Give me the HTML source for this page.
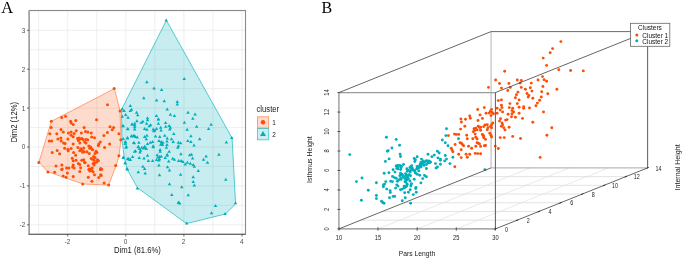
<!DOCTYPE html>
<html><head><meta charset="utf-8"><style>
html,body{margin:0;padding:0;background:#fff;width:685px;height:262px;overflow:hidden}
svg{display:block;font-family:"Liberation Sans", sans-serif;will-change:transform}
</style></head><body>
<svg width="685" height="262" viewBox="0 0 685 262">
<rect x="29.2" y="10.5" width="216.3" height="223.8" fill="#fff"/>
<line x1="38.65" y1="10.5" x2="38.65" y2="234.3" stroke="#ebebeb" stroke-width="0.8"/>
<line x1="67.70" y1="10.5" x2="67.70" y2="234.3" stroke="#ebebeb" stroke-width="0.8"/>
<line x1="96.75" y1="10.5" x2="96.75" y2="234.3" stroke="#ebebeb" stroke-width="0.8"/>
<line x1="125.80" y1="10.5" x2="125.80" y2="234.3" stroke="#ebebeb" stroke-width="0.8"/>
<line x1="154.85" y1="10.5" x2="154.85" y2="234.3" stroke="#ebebeb" stroke-width="0.8"/>
<line x1="183.90" y1="10.5" x2="183.90" y2="234.3" stroke="#ebebeb" stroke-width="0.8"/>
<line x1="212.95" y1="10.5" x2="212.95" y2="234.3" stroke="#ebebeb" stroke-width="0.8"/>
<line x1="242.00" y1="10.5" x2="242.00" y2="234.3" stroke="#ebebeb" stroke-width="0.8"/>
<line x1="29.2" y1="224.80" x2="245.5" y2="224.80" stroke="#ebebeb" stroke-width="0.8"/>
<line x1="29.2" y1="205.35" x2="245.5" y2="205.35" stroke="#ebebeb" stroke-width="0.8"/>
<line x1="29.2" y1="185.90" x2="245.5" y2="185.90" stroke="#ebebeb" stroke-width="0.8"/>
<line x1="29.2" y1="166.45" x2="245.5" y2="166.45" stroke="#ebebeb" stroke-width="0.8"/>
<line x1="29.2" y1="147.00" x2="245.5" y2="147.00" stroke="#ebebeb" stroke-width="0.8"/>
<line x1="29.2" y1="127.55" x2="245.5" y2="127.55" stroke="#ebebeb" stroke-width="0.8"/>
<line x1="29.2" y1="108.10" x2="245.5" y2="108.10" stroke="#ebebeb" stroke-width="0.8"/>
<line x1="29.2" y1="88.65" x2="245.5" y2="88.65" stroke="#ebebeb" stroke-width="0.8"/>
<line x1="29.2" y1="69.20" x2="245.5" y2="69.20" stroke="#ebebeb" stroke-width="0.8"/>
<line x1="29.2" y1="49.75" x2="245.5" y2="49.75" stroke="#ebebeb" stroke-width="0.8"/>
<line x1="29.2" y1="30.30" x2="245.5" y2="30.30" stroke="#ebebeb" stroke-width="0.8"/>
<line x1="29.2" y1="10.85" x2="245.5" y2="10.85" stroke="#ebebeb" stroke-width="0.8"/>
<polygon points="114.4,88.6 120,110.6 121,139.7 119,155.8 116,166 108.6,185.1 83.1,184 48,171.8 38.9,162.3 51.4,121.3" fill="#FC4E07" fill-opacity="0.2" stroke="#FC4E07" stroke-opacity="0.75" stroke-width="0.65"/>
<polygon points="166.4,20.3 232.1,138.1 235.6,204 225.3,214 186.5,223.6 137.5,187.8 127.2,169.5 124.2,157.3 122,140 121.5,109.6" fill="#00AFBB" fill-opacity="0.22" stroke="#00AFBB" stroke-opacity="0.9" stroke-width="0.7"/>
<circle cx="114.1" cy="88.4" r="1.5" fill="#FC4E07"/>
<circle cx="107.5" cy="104.8" r="1.5" fill="#FC4E07"/>
<circle cx="120" cy="111" r="1.5" fill="#FC4E07"/>
<circle cx="51.3" cy="121.3" r="1.5" fill="#FC4E07"/>
<circle cx="61.7" cy="117.5" r="1.5" fill="#FC4E07"/>
<circle cx="65.5" cy="116.3" r="1.5" fill="#FC4E07"/>
<circle cx="70.6" cy="121.2" r="1.5" fill="#FC4E07"/>
<circle cx="75.8" cy="120.4" r="1.5" fill="#FC4E07"/>
<circle cx="71.2" cy="122.9" r="1.5" fill="#FC4E07"/>
<circle cx="73.2" cy="124.4" r="1.5" fill="#FC4E07"/>
<circle cx="96.5" cy="119.8" r="1.5" fill="#FC4E07"/>
<circle cx="51.2" cy="127.6" r="1.5" fill="#FC4E07"/>
<circle cx="61" cy="129.5" r="1.5" fill="#FC4E07"/>
<circle cx="63.3" cy="131.9" r="1.5" fill="#FC4E07"/>
<circle cx="49.8" cy="133.8" r="1.5" fill="#FC4E07"/>
<circle cx="56.8" cy="133.8" r="1.5" fill="#FC4E07"/>
<circle cx="68.4" cy="132.9" r="1.5" fill="#FC4E07"/>
<circle cx="71.1" cy="131.9" r="1.5" fill="#FC4E07"/>
<circle cx="76.2" cy="130.7" r="1.5" fill="#FC4E07"/>
<circle cx="74.1" cy="133.4" r="1.5" fill="#FC4E07"/>
<circle cx="81.3" cy="132.9" r="1.5" fill="#FC4E07"/>
<circle cx="84.1" cy="127.6" r="1.5" fill="#FC4E07"/>
<circle cx="71.1" cy="135.3" r="1.5" fill="#FC4E07"/>
<circle cx="73.2" cy="136.7" r="1.5" fill="#FC4E07"/>
<circle cx="60.8" cy="137.9" r="1.5" fill="#FC4E07"/>
<circle cx="57.9" cy="139.1" r="1.5" fill="#FC4E07"/>
<circle cx="67.9" cy="139.1" r="1.5" fill="#FC4E07"/>
<circle cx="49.3" cy="141" r="1.5" fill="#FC4E07"/>
<circle cx="51.7" cy="141" r="1.5" fill="#FC4E07"/>
<circle cx="61.2" cy="141" r="1.5" fill="#FC4E07"/>
<circle cx="63.6" cy="142.9" r="1.5" fill="#FC4E07"/>
<circle cx="65.1" cy="143.4" r="1.5" fill="#FC4E07"/>
<circle cx="77.5" cy="138.6" r="1.5" fill="#FC4E07"/>
<circle cx="78.9" cy="137.9" r="1.5" fill="#FC4E07"/>
<circle cx="80.3" cy="139.1" r="1.5" fill="#FC4E07"/>
<circle cx="81.8" cy="138.6" r="1.5" fill="#FC4E07"/>
<circle cx="78.4" cy="140.5" r="1.5" fill="#FC4E07"/>
<circle cx="83.2" cy="139.6" r="1.5" fill="#FC4E07"/>
<circle cx="79.8" cy="142.9" r="1.5" fill="#FC4E07"/>
<circle cx="73.2" cy="144" r="1.5" fill="#FC4E07"/>
<circle cx="84.6" cy="142" r="1.5" fill="#FC4E07"/>
<circle cx="110" cy="126.7" r="1.5" fill="#FC4E07"/>
<circle cx="113.6" cy="127.6" r="1.5" fill="#FC4E07"/>
<circle cx="112.2" cy="129.7" r="1.5" fill="#FC4E07"/>
<circle cx="107.4" cy="132.4" r="1.5" fill="#FC4E07"/>
<circle cx="103.9" cy="135.5" r="1.5" fill="#FC4E07"/>
<circle cx="118.9" cy="133.8" r="1.5" fill="#FC4E07"/>
<circle cx="120.8" cy="139.8" r="1.5" fill="#FC4E07"/>
<circle cx="91.2" cy="132.9" r="1.5" fill="#FC4E07"/>
<circle cx="87.9" cy="131.9" r="1.5" fill="#FC4E07"/>
<circle cx="85.5" cy="131.5" r="1.5" fill="#FC4E07"/>
<circle cx="91.7" cy="137" r="1.5" fill="#FC4E07"/>
<circle cx="94.5" cy="137.7" r="1.5" fill="#FC4E07"/>
<circle cx="86" cy="139.6" r="1.5" fill="#FC4E07"/>
<circle cx="87.7" cy="139.8" r="1.5" fill="#FC4E07"/>
<circle cx="86" cy="142.9" r="1.5" fill="#FC4E07"/>
<circle cx="100.3" cy="142.1" r="1.5" fill="#FC4E07"/>
<circle cx="98.8" cy="143.9" r="1.5" fill="#FC4E07"/>
<circle cx="109.6" cy="143.9" r="1.5" fill="#FC4E07"/>
<circle cx="38.8" cy="162.5" r="1.5" fill="#FC4E07"/>
<circle cx="52.2" cy="152.6" r="1.5" fill="#FC4E07"/>
<circle cx="57.1" cy="150.5" r="1.5" fill="#FC4E07"/>
<circle cx="59.6" cy="153.8" r="1.5" fill="#FC4E07"/>
<circle cx="64.6" cy="148.3" r="1.5" fill="#FC4E07"/>
<circle cx="67.9" cy="149.3" r="1.5" fill="#FC4E07"/>
<circle cx="68.2" cy="150.7" r="1.5" fill="#FC4E07"/>
<circle cx="71.1" cy="148.6" r="1.5" fill="#FC4E07"/>
<circle cx="73.6" cy="152.6" r="1.5" fill="#FC4E07"/>
<circle cx="75.6" cy="155.3" r="1.5" fill="#FC4E07"/>
<circle cx="77.9" cy="147.4" r="1.5" fill="#FC4E07"/>
<circle cx="80.8" cy="148.8" r="1.5" fill="#FC4E07"/>
<circle cx="79.8" cy="150.7" r="1.5" fill="#FC4E07"/>
<circle cx="82.2" cy="150.2" r="1.5" fill="#FC4E07"/>
<circle cx="83.7" cy="147.9" r="1.5" fill="#FC4E07"/>
<circle cx="82.7" cy="152.2" r="1.5" fill="#FC4E07"/>
<circle cx="84.1" cy="151.7" r="1.5" fill="#FC4E07"/>
<circle cx="72.2" cy="158.2" r="1.5" fill="#FC4E07"/>
<circle cx="73.2" cy="160.7" r="1.5" fill="#FC4E07"/>
<circle cx="76" cy="160.3" r="1.5" fill="#FC4E07"/>
<circle cx="81.8" cy="160.3" r="1.5" fill="#FC4E07"/>
<circle cx="83.7" cy="159.8" r="1.5" fill="#FC4E07"/>
<circle cx="84.6" cy="162.2" r="1.5" fill="#FC4E07"/>
<circle cx="78.4" cy="163.6" r="1.5" fill="#FC4E07"/>
<circle cx="79.8" cy="164.6" r="1.5" fill="#FC4E07"/>
<circle cx="73.2" cy="165" r="1.5" fill="#FC4E07"/>
<circle cx="72.7" cy="167" r="1.5" fill="#FC4E07"/>
<circle cx="74.1" cy="167.9" r="1.5" fill="#FC4E07"/>
<circle cx="80.6" cy="167.7" r="1.5" fill="#FC4E07"/>
<circle cx="56" cy="166" r="1.5" fill="#FC4E07"/>
<circle cx="61.9" cy="165" r="1.5" fill="#FC4E07"/>
<circle cx="62.2" cy="168.9" r="1.5" fill="#FC4E07"/>
<circle cx="66.5" cy="168.1" r="1.5" fill="#FC4E07"/>
<circle cx="68.9" cy="168.1" r="1.5" fill="#FC4E07"/>
<circle cx="88.8" cy="146" r="1.5" fill="#FC4E07"/>
<circle cx="90.7" cy="146.9" r="1.5" fill="#FC4E07"/>
<circle cx="89.8" cy="148.3" r="1.5" fill="#FC4E07"/>
<circle cx="91.7" cy="148.8" r="1.5" fill="#FC4E07"/>
<circle cx="92.6" cy="149.8" r="1.5" fill="#FC4E07"/>
<circle cx="98.4" cy="145.5" r="1.5" fill="#FC4E07"/>
<circle cx="104.6" cy="147.4" r="1.5" fill="#FC4E07"/>
<circle cx="86.9" cy="151.7" r="1.5" fill="#FC4E07"/>
<circle cx="89.3" cy="153.6" r="1.5" fill="#FC4E07"/>
<circle cx="96" cy="151.2" r="1.5" fill="#FC4E07"/>
<circle cx="96.9" cy="152.6" r="1.5" fill="#FC4E07"/>
<circle cx="95" cy="153.6" r="1.5" fill="#FC4E07"/>
<circle cx="93.6" cy="156.5" r="1.5" fill="#FC4E07"/>
<circle cx="95" cy="157.4" r="1.5" fill="#FC4E07"/>
<circle cx="91.2" cy="158.4" r="1.5" fill="#FC4E07"/>
<circle cx="92.6" cy="159.3" r="1.5" fill="#FC4E07"/>
<circle cx="94.1" cy="160.3" r="1.5" fill="#FC4E07"/>
<circle cx="97.4" cy="159.8" r="1.5" fill="#FC4E07"/>
<circle cx="98.4" cy="160.7" r="1.5" fill="#FC4E07"/>
<circle cx="96.5" cy="162.2" r="1.5" fill="#FC4E07"/>
<circle cx="94.5" cy="163.1" r="1.5" fill="#FC4E07"/>
<circle cx="93.1" cy="163.6" r="1.5" fill="#FC4E07"/>
<circle cx="85" cy="162.7" r="1.5" fill="#FC4E07"/>
<circle cx="94.1" cy="165" r="1.5" fill="#FC4E07"/>
<circle cx="88.3" cy="165.8" r="1.5" fill="#FC4E07"/>
<circle cx="92.2" cy="167.9" r="1.5" fill="#FC4E07"/>
<circle cx="89.3" cy="168.9" r="1.5" fill="#FC4E07"/>
<circle cx="100.7" cy="168.4" r="1.5" fill="#FC4E07"/>
<circle cx="101.7" cy="169.3" r="1.5" fill="#FC4E07"/>
<circle cx="118.9" cy="155.7" r="1.5" fill="#FC4E07"/>
<circle cx="115.7" cy="165.5" r="1.5" fill="#FC4E07"/>
<circle cx="47.9" cy="172" r="1.5" fill="#FC4E07"/>
<circle cx="54.6" cy="172.3" r="1.5" fill="#FC4E07"/>
<circle cx="61.7" cy="169.4" r="1.5" fill="#FC4E07"/>
<circle cx="67.4" cy="173" r="1.5" fill="#FC4E07"/>
<circle cx="63.1" cy="176.1" r="1.5" fill="#FC4E07"/>
<circle cx="66" cy="177.3" r="1.5" fill="#FC4E07"/>
<circle cx="73.2" cy="176.6" r="1.5" fill="#FC4E07"/>
<circle cx="79.8" cy="171.6" r="1.5" fill="#FC4E07"/>
<circle cx="82.7" cy="184" r="1.5" fill="#FC4E07"/>
<circle cx="88.8" cy="169.4" r="1.5" fill="#FC4E07"/>
<circle cx="90.7" cy="169" r="1.5" fill="#FC4E07"/>
<circle cx="91.7" cy="170.4" r="1.5" fill="#FC4E07"/>
<circle cx="89.8" cy="170.9" r="1.5" fill="#FC4E07"/>
<circle cx="93.1" cy="171.8" r="1.5" fill="#FC4E07"/>
<circle cx="100.3" cy="169.4" r="1.5" fill="#FC4E07"/>
<circle cx="94.5" cy="174.7" r="1.5" fill="#FC4E07"/>
<circle cx="100.7" cy="174.7" r="1.5" fill="#FC4E07"/>
<circle cx="101.2" cy="175.4" r="1.5" fill="#FC4E07"/>
<circle cx="98.8" cy="177.5" r="1.5" fill="#FC4E07"/>
<circle cx="88.3" cy="177.3" r="1.5" fill="#FC4E07"/>
<circle cx="91.9" cy="181.2" r="1.5" fill="#FC4E07"/>
<circle cx="104.1" cy="183" r="1.5" fill="#FC4E07"/>
<circle cx="108.7" cy="185" r="1.5" fill="#FC4E07"/>
<path d="M166.2 18.40L167.95 21.40L164.45 21.40Z" fill="#00AFBB"/>
<path d="M146.8 80.30L148.55 83.30L145.05 83.30Z" fill="#00AFBB"/>
<path d="M154 86.40L155.75 89.40L152.25 89.40Z" fill="#00AFBB"/>
<path d="M161.6 87.90L163.35 90.90L159.85 90.90Z" fill="#00AFBB"/>
<path d="M184.2 77.10L185.95 80.10L182.45 80.10Z" fill="#00AFBB"/>
<path d="M143.8 96.30L145.55 99.30L142.05 99.30Z" fill="#00AFBB"/>
<path d="M156.6 98.40L158.35 101.40L154.85 101.40Z" fill="#00AFBB"/>
<path d="M164.3 99.30L166.05 102.30L162.55 102.30Z" fill="#00AFBB"/>
<path d="M177.3 100.10L179.05 103.10L175.55 103.10Z" fill="#00AFBB"/>
<path d="M177.3 102.40L179.05 105.40L175.55 105.40Z" fill="#00AFBB"/>
<path d="M130.3 104.10L132.05 107.10L128.55 107.10Z" fill="#00AFBB"/>
<path d="M131.5 107.80L133.25 110.80L129.75 110.80Z" fill="#00AFBB"/>
<path d="M130.3 108.90L132.05 111.90L128.55 111.90Z" fill="#00AFBB"/>
<path d="M167.2 107.60L168.95 110.60L165.45 110.60Z" fill="#00AFBB"/>
<path d="M122.3 107.30L124.05 110.30L120.55 110.30Z" fill="#00AFBB"/>
<path d="M124 108.90L125.75 111.90L122.25 111.90Z" fill="#00AFBB"/>
<path d="M122.3 114.70L124.05 117.70L120.55 117.70Z" fill="#00AFBB"/>
<path d="M125.7 113.10L127.45 116.10L123.95 116.10Z" fill="#00AFBB"/>
<path d="M128 115.80L129.75 118.80L126.25 118.80Z" fill="#00AFBB"/>
<path d="M136.6 110.80L138.35 113.80L134.85 113.80Z" fill="#00AFBB"/>
<path d="M137.7 113.30L139.45 116.30L135.95 116.30Z" fill="#00AFBB"/>
<path d="M147.5 116.20L149.25 119.20L145.75 119.20Z" fill="#00AFBB"/>
<path d="M156.4 113.90L158.15 116.90L154.65 116.90Z" fill="#00AFBB"/>
<path d="M158.4 117.30L160.15 120.30L156.65 120.30Z" fill="#00AFBB"/>
<path d="M170.4 112.70L172.15 115.70L168.65 115.70Z" fill="#00AFBB"/>
<path d="M174.4 113.90L176.15 116.90L172.65 116.90Z" fill="#00AFBB"/>
<path d="M188 110.80L189.75 113.80L186.25 113.80Z" fill="#00AFBB"/>
<path d="M195.1 112.40L196.85 115.40L193.35 115.40Z" fill="#00AFBB"/>
<path d="M192.8 116.70L194.55 119.70L191.05 119.70Z" fill="#00AFBB"/>
<path d="M147.5 118.20L149.25 121.20L145.75 121.20Z" fill="#00AFBB"/>
<path d="M158.4 117.50L160.15 120.50L156.65 120.50Z" fill="#00AFBB"/>
<path d="M136.9 119.30L138.65 122.30L135.15 122.30Z" fill="#00AFBB"/>
<path d="M141.2 120.70L142.95 123.70L139.45 123.70Z" fill="#00AFBB"/>
<path d="M142.9 119.80L144.65 122.80L141.15 122.80Z" fill="#00AFBB"/>
<path d="M132 122.40L133.75 125.40L130.25 125.40Z" fill="#00AFBB"/>
<path d="M134.7 121.80L136.45 124.80L132.95 124.80Z" fill="#00AFBB"/>
<path d="M134.7 123.50L136.45 126.50L132.95 126.50Z" fill="#00AFBB"/>
<path d="M134.7 125.30L136.45 128.30L132.95 128.30Z" fill="#00AFBB"/>
<path d="M134.7 127.60L136.45 130.60L132.95 130.60Z" fill="#00AFBB"/>
<path d="M122.9 124.10L124.65 127.10L121.15 127.10Z" fill="#00AFBB"/>
<path d="M127.8 127.00L129.55 130.00L126.05 130.00Z" fill="#00AFBB"/>
<path d="M146.6 121.80L148.35 124.80L144.85 124.80Z" fill="#00AFBB"/>
<path d="M149.2 124.30L150.95 127.30L147.45 127.30Z" fill="#00AFBB"/>
<path d="M150.7 123.20L152.45 126.20L148.95 126.20Z" fill="#00AFBB"/>
<path d="M158.4 121.80L160.15 124.80L156.65 124.80Z" fill="#00AFBB"/>
<path d="M165.6 120.90L167.35 123.90L163.85 123.90Z" fill="#00AFBB"/>
<path d="M165.8 124.70L167.55 127.70L164.05 127.70Z" fill="#00AFBB"/>
<path d="M169.2 123.90L170.95 126.90L167.45 126.90Z" fill="#00AFBB"/>
<path d="M170.4 125.80L172.15 128.80L168.65 128.80Z" fill="#00AFBB"/>
<path d="M169.8 127.60L171.55 130.60L168.05 130.60Z" fill="#00AFBB"/>
<path d="M160.7 125.80L162.45 128.80L158.95 128.80Z" fill="#00AFBB"/>
<path d="M161 128.50L162.75 131.50L159.25 131.50Z" fill="#00AFBB"/>
<path d="M144.6 127.00L146.35 130.00L142.85 130.00Z" fill="#00AFBB"/>
<path d="M146.9 127.80L148.65 130.80L145.15 130.80Z" fill="#00AFBB"/>
<path d="M153.2 127.60L154.95 130.60L151.45 130.60Z" fill="#00AFBB"/>
<path d="M154.9 128.50L156.65 131.50L153.15 131.50Z" fill="#00AFBB"/>
<path d="M156.6 127.00L158.35 130.00L154.85 130.00Z" fill="#00AFBB"/>
<path d="M153.8 129.30L155.55 132.30L152.05 132.30Z" fill="#00AFBB"/>
<path d="M173.8 132.10L175.55 135.10L172.05 135.10Z" fill="#00AFBB"/>
<path d="M131.5 134.20L133.25 137.20L129.75 137.20Z" fill="#00AFBB"/>
<path d="M133.7 134.20L135.45 137.20L131.95 137.20Z" fill="#00AFBB"/>
<path d="M135.5 135.00L137.25 138.00L133.75 138.00Z" fill="#00AFBB"/>
<path d="M137.2 135.60L138.95 138.60L135.45 138.60Z" fill="#00AFBB"/>
<path d="M127.4 136.50L129.15 139.50L125.65 139.50Z" fill="#00AFBB"/>
<path d="M123.2 136.90L124.95 139.90L121.45 139.90Z" fill="#00AFBB"/>
<path d="M144.6 135.00L146.35 138.00L142.85 138.00Z" fill="#00AFBB"/>
<path d="M146.9 133.80L148.65 136.80L145.15 136.80Z" fill="#00AFBB"/>
<path d="M146.3 137.30L148.05 140.30L144.55 140.30Z" fill="#00AFBB"/>
<path d="M155.5 134.40L157.25 137.40L153.75 137.40Z" fill="#00AFBB"/>
<path d="M159.8 135.00L161.55 138.00L158.05 138.00Z" fill="#00AFBB"/>
<path d="M164.7 133.80L166.45 136.80L162.95 136.80Z" fill="#00AFBB"/>
<path d="M167.2 136.50L168.95 139.50L165.45 139.50Z" fill="#00AFBB"/>
<path d="M171.5 137.30L173.25 140.30L169.75 140.30Z" fill="#00AFBB"/>
<path d="M173.2 140.10L174.95 143.10L171.45 143.10Z" fill="#00AFBB"/>
<path d="M158.9 139.00L160.65 142.00L157.15 142.00Z" fill="#00AFBB"/>
<path d="M161.2 140.10L162.95 143.10L159.45 143.10Z" fill="#00AFBB"/>
<path d="M162.9 140.70L164.65 143.70L161.15 143.70Z" fill="#00AFBB"/>
<path d="M161.8 141.90L163.55 144.90L160.05 144.90Z" fill="#00AFBB"/>
<path d="M160.7 142.70L162.45 145.70L158.95 145.70Z" fill="#00AFBB"/>
<path d="M162.4 143.00L164.15 146.00L160.65 146.00Z" fill="#00AFBB"/>
<path d="M167 139.60L168.75 142.60L165.25 142.60Z" fill="#00AFBB"/>
<path d="M167 143.00L168.75 146.00L165.25 146.00Z" fill="#00AFBB"/>
<path d="M125.2 140.10L126.95 143.10L123.45 143.10Z" fill="#00AFBB"/>
<path d="M125.2 141.90L126.95 144.90L123.45 144.90Z" fill="#00AFBB"/>
<path d="M134.3 141.30L136.05 144.30L132.55 144.30Z" fill="#00AFBB"/>
<path d="M138.9 140.70L140.65 143.70L137.15 143.70Z" fill="#00AFBB"/>
<path d="M147.5 141.90L149.25 144.90L145.75 144.90Z" fill="#00AFBB"/>
<path d="M150.3 140.70L152.05 143.70L148.55 143.70Z" fill="#00AFBB"/>
<path d="M152.6 140.10L154.35 143.10L150.85 143.10Z" fill="#00AFBB"/>
<path d="M138.3 144.70L140.05 147.70L136.55 147.70Z" fill="#00AFBB"/>
<path d="M144.6 144.70L146.35 147.70L142.85 147.70Z" fill="#00AFBB"/>
<path d="M153.2 144.20L154.95 147.20L151.45 147.20Z" fill="#00AFBB"/>
<path d="M178.4 140.70L180.15 143.70L176.65 143.70Z" fill="#00AFBB"/>
<path d="M178.4 144.20L180.15 147.20L176.65 147.20Z" fill="#00AFBB"/>
<path d="M126.3 144.70L128.05 147.70L124.55 147.70Z" fill="#00AFBB"/>
<path d="M123.2 124.30L124.95 127.30L121.45 127.30Z" fill="#00AFBB"/>
<path d="M127.7 127.20L129.45 130.20L125.95 130.20Z" fill="#00AFBB"/>
<path d="M132.2 122.40L133.95 125.40L130.45 125.40Z" fill="#00AFBB"/>
<path d="M131.8 134.30L133.55 137.30L130.05 137.30Z" fill="#00AFBB"/>
<path d="M134.1 133.80L135.85 136.80L132.35 136.80Z" fill="#00AFBB"/>
<path d="M127.5 136.00L129.25 139.00L125.75 139.00Z" fill="#00AFBB"/>
<path d="M125.6 140.50L127.35 143.50L123.85 143.50Z" fill="#00AFBB"/>
<path d="M133.7 141.00L135.45 144.00L131.95 144.00Z" fill="#00AFBB"/>
<path d="M184.4 120.70L186.15 123.70L182.65 123.70Z" fill="#00AFBB"/>
<path d="M196.6 124.70L198.35 127.70L194.85 127.70Z" fill="#00AFBB"/>
<path d="M211.1 122.70L212.85 125.70L209.35 125.70Z" fill="#00AFBB"/>
<path d="M208.6 127.00L210.35 130.00L206.85 130.00Z" fill="#00AFBB"/>
<path d="M187.1 127.80L188.85 130.80L185.35 130.80Z" fill="#00AFBB"/>
<path d="M190.9 134.20L192.65 137.20L189.15 137.20Z" fill="#00AFBB"/>
<path d="M199.7 137.30L201.45 140.30L197.95 140.30Z" fill="#00AFBB"/>
<path d="M187.8 139.00L189.55 142.00L186.05 142.00Z" fill="#00AFBB"/>
<path d="M190.9 139.90L192.65 142.90L189.15 142.90Z" fill="#00AFBB"/>
<path d="M194 143.60L195.75 146.60L192.25 146.60Z" fill="#00AFBB"/>
<path d="M180.6 141.30L182.35 144.30L178.85 144.30Z" fill="#00AFBB"/>
<path d="M231.8 136.10L233.55 139.10L230.05 139.10Z" fill="#00AFBB"/>
<path d="M226.4 140.40L228.15 143.40L224.65 143.40Z" fill="#00AFBB"/>
<path d="M138.3 145.20L140.05 148.20L136.55 148.20Z" fill="#00AFBB"/>
<path d="M139.5 147.00L141.25 150.00L137.75 150.00Z" fill="#00AFBB"/>
<path d="M140.6 148.70L142.35 151.70L138.85 151.70Z" fill="#00AFBB"/>
<path d="M140 150.40L141.75 153.40L138.25 153.40Z" fill="#00AFBB"/>
<path d="M141.8 145.80L143.55 148.80L140.05 148.80Z" fill="#00AFBB"/>
<path d="M143.5 146.40L145.25 149.40L141.75 149.40Z" fill="#00AFBB"/>
<path d="M145.2 145.80L146.95 148.80L143.45 148.80Z" fill="#00AFBB"/>
<path d="M146.3 147.00L148.05 150.00L144.55 150.00Z" fill="#00AFBB"/>
<path d="M153.2 145.20L154.95 148.20L151.45 148.20Z" fill="#00AFBB"/>
<path d="M135.5 149.30L137.25 152.30L133.75 152.30Z" fill="#00AFBB"/>
<path d="M132.6 155.00L134.35 158.00L130.85 158.00Z" fill="#00AFBB"/>
<path d="M128.2 156.70L129.95 159.70L126.45 159.70Z" fill="#00AFBB"/>
<path d="M130.3 157.80L132.05 160.80L128.55 160.80Z" fill="#00AFBB"/>
<path d="M123.4 155.60L125.15 158.60L121.65 158.60Z" fill="#00AFBB"/>
<path d="M125.2 161.30L126.95 164.30L123.45 164.30Z" fill="#00AFBB"/>
<path d="M127.4 167.60L129.15 170.60L125.65 170.60Z" fill="#00AFBB"/>
<path d="M139.2 156.10L140.95 159.10L137.45 159.10Z" fill="#00AFBB"/>
<path d="M144 156.50L145.75 159.50L142.25 159.50Z" fill="#00AFBB"/>
<path d="M147.5 153.80L149.25 156.80L145.75 156.80Z" fill="#00AFBB"/>
<path d="M148.4 159.00L150.15 162.00L146.65 162.00Z" fill="#00AFBB"/>
<path d="M152.6 159.00L154.35 162.00L150.85 162.00Z" fill="#00AFBB"/>
<path d="M157.2 153.30L158.95 156.30L155.45 156.30Z" fill="#00AFBB"/>
<path d="M157.8 155.60L159.55 158.60L156.05 158.60Z" fill="#00AFBB"/>
<path d="M159.5 155.00L161.25 158.00L157.75 158.00Z" fill="#00AFBB"/>
<path d="M159.5 157.30L161.25 160.30L157.75 160.30Z" fill="#00AFBB"/>
<path d="M156.6 158.10L158.35 161.10L154.85 161.10Z" fill="#00AFBB"/>
<path d="M158.9 158.40L160.65 161.40L157.15 161.40Z" fill="#00AFBB"/>
<path d="M161.2 154.40L162.95 157.40L159.45 157.40Z" fill="#00AFBB"/>
<path d="M160.1 148.10L161.85 151.10L158.35 151.10Z" fill="#00AFBB"/>
<path d="M160.1 149.80L161.85 152.80L158.35 152.80Z" fill="#00AFBB"/>
<path d="M166.4 145.80L168.15 148.80L164.65 148.80Z" fill="#00AFBB"/>
<path d="M169.2 149.80L170.95 152.80L167.45 152.80Z" fill="#00AFBB"/>
<path d="M167.2 152.70L168.95 155.70L165.45 155.70Z" fill="#00AFBB"/>
<path d="M167.2 153.80L168.95 156.80L165.45 156.80Z" fill="#00AFBB"/>
<path d="M165.2 156.10L166.95 159.10L163.45 159.10Z" fill="#00AFBB"/>
<path d="M168.7 159.60L170.45 162.60L166.95 162.60Z" fill="#00AFBB"/>
<path d="M172.7 156.70L174.45 159.70L170.95 159.70Z" fill="#00AFBB"/>
<path d="M174.4 157.80L176.15 160.80L172.65 160.80Z" fill="#00AFBB"/>
<path d="M177.8 145.80L179.55 148.80L176.05 148.80Z" fill="#00AFBB"/>
<path d="M158.9 163.60L160.65 166.60L157.15 166.60Z" fill="#00AFBB"/>
<path d="M142.9 164.70L144.65 167.70L141.15 167.70Z" fill="#00AFBB"/>
<path d="M144.6 167.00L146.35 170.00L142.85 170.00Z" fill="#00AFBB"/>
<path d="M167.5 165.30L169.25 168.30L165.75 168.30Z" fill="#00AFBB"/>
<path d="M169.5 168.40L171.25 171.40L167.75 171.40Z" fill="#00AFBB"/>
<path d="M138.3 170.20L140.05 173.20L136.55 173.20Z" fill="#00AFBB"/>
<path d="M145.2 171.60L146.95 174.60L143.45 174.60Z" fill="#00AFBB"/>
<path d="M159.5 173.30L161.25 176.30L157.75 176.30Z" fill="#00AFBB"/>
<path d="M178.6 159.00L180.35 162.00L176.85 162.00Z" fill="#00AFBB"/>
<path d="M126 145.80L127.75 148.80L124.25 148.80Z" fill="#00AFBB"/>
<path d="M134.6 149.80L136.35 152.80L132.85 152.80Z" fill="#00AFBB"/>
<path d="M123.2 156.00L124.95 159.00L121.45 159.00Z" fill="#00AFBB"/>
<path d="M127.5 157.20L129.25 160.20L125.75 160.20Z" fill="#00AFBB"/>
<path d="M129.8 157.90L131.55 160.90L128.05 160.90Z" fill="#00AFBB"/>
<path d="M125.1 161.20L126.85 164.20L123.35 164.20Z" fill="#00AFBB"/>
<path d="M127 167.00L128.75 170.00L125.25 170.00Z" fill="#00AFBB"/>
<path d="M180.9 152.30L182.65 155.30L179.15 155.30Z" fill="#00AFBB"/>
<path d="M189.7 153.30L191.45 156.30L187.95 156.30Z" fill="#00AFBB"/>
<path d="M191.5 152.70L193.25 155.70L189.75 155.70Z" fill="#00AFBB"/>
<path d="M192.6 156.50L194.35 159.50L190.85 159.50Z" fill="#00AFBB"/>
<path d="M181.1 159.00L182.85 162.00L179.35 162.00Z" fill="#00AFBB"/>
<path d="M182.9 159.90L184.65 162.90L181.15 162.90Z" fill="#00AFBB"/>
<path d="M185.2 162.40L186.95 165.40L183.45 165.40Z" fill="#00AFBB"/>
<path d="M187.4 160.70L189.15 163.70L185.65 163.70Z" fill="#00AFBB"/>
<path d="M190.3 161.80L192.05 164.80L188.55 164.80Z" fill="#00AFBB"/>
<path d="M193.2 163.00L194.95 166.00L191.45 166.00Z" fill="#00AFBB"/>
<path d="M194.3 164.70L196.05 167.70L192.55 167.70Z" fill="#00AFBB"/>
<path d="M206.1 154.60L207.85 157.60L204.35 157.60Z" fill="#00AFBB"/>
<path d="M203.5 157.80L205.25 160.80L201.75 160.80Z" fill="#00AFBB"/>
<path d="M207.5 160.70L209.25 163.70L205.75 163.70Z" fill="#00AFBB"/>
<path d="M218.9 152.70L220.65 155.70L217.15 155.70Z" fill="#00AFBB"/>
<path d="M198.3 169.10L200.05 172.10L196.55 172.10Z" fill="#00AFBB"/>
<path d="M180.6 172.70L182.35 175.70L178.85 175.70Z" fill="#00AFBB"/>
<path d="M137.4 186.40L139.15 189.40L135.65 189.40Z" fill="#00AFBB"/>
<path d="M169.5 182.20L171.25 185.20L167.75 185.20Z" fill="#00AFBB"/>
<path d="M171.8 192.90L173.55 195.90L170.05 195.90Z" fill="#00AFBB"/>
<path d="M178.4 200.70L180.15 203.70L176.65 203.70Z" fill="#00AFBB"/>
<path d="M193.2 175.30L194.95 178.30L191.45 178.30Z" fill="#00AFBB"/>
<path d="M193.2 179.90L194.95 182.90L191.45 182.90Z" fill="#00AFBB"/>
<path d="M194.3 183.60L196.05 186.60L192.55 186.60Z" fill="#00AFBB"/>
<path d="M181.7 185.30L183.45 188.30L179.95 188.30Z" fill="#00AFBB"/>
<path d="M188.2 193.30L189.95 196.30L186.45 196.30Z" fill="#00AFBB"/>
<path d="M225.8 177.80L227.55 180.80L224.05 180.80Z" fill="#00AFBB"/>
<path d="M235.5 201.30L237.25 204.30L233.75 204.30Z" fill="#00AFBB"/>
<path d="M178.7 200.70L180.45 203.70L176.95 203.70Z" fill="#00AFBB"/>
<path d="M179.7 201.40L181.45 204.40L177.95 204.40Z" fill="#00AFBB"/>
<path d="M215.5 204.00L217.25 207.00L213.75 207.00Z" fill="#00AFBB"/>
<path d="M211.5 211.30L213.25 214.30L209.75 214.30Z" fill="#00AFBB"/>
<path d="M225.1 211.90L226.85 214.90L223.35 214.90Z" fill="#00AFBB"/>
<path d="M186.7 221.50L188.45 224.50L184.95 224.50Z" fill="#00AFBB"/>
<rect x="29.2" y="10.5" width="216.3" height="223.8" fill="none" stroke="#8a8a8a" stroke-width="1.1"/>
<line x1="29.2" y1="10.5" x2="29.2" y2="234.8" stroke="#a0a0a0" stroke-width="1.4"/>
<line x1="28.7" y1="234.3" x2="245.5" y2="234.3" stroke="#606060" stroke-width="1.0"/>
<line x1="67.70" y1="234.3" x2="67.70" y2="236.5" stroke="#333" stroke-width="0.7"/>
<text transform="translate(67.40,244.00) scale(1,1.15)" font-size="6.4" fill="#4d4d4d" text-anchor="middle">-2</text>
<line x1="125.80" y1="234.3" x2="125.80" y2="236.5" stroke="#333" stroke-width="0.7"/>
<text transform="translate(125.50,244.00) scale(1,1.15)" font-size="6.4" fill="#4d4d4d" text-anchor="middle">0</text>
<line x1="183.90" y1="234.3" x2="183.90" y2="236.5" stroke="#333" stroke-width="0.7"/>
<text transform="translate(183.60,244.00) scale(1,1.15)" font-size="6.4" fill="#4d4d4d" text-anchor="middle">2</text>
<line x1="242.00" y1="234.3" x2="242.00" y2="236.5" stroke="#333" stroke-width="0.7"/>
<text transform="translate(241.70,244.00) scale(1,1.15)" font-size="6.4" fill="#4d4d4d" text-anchor="middle">4</text>
<line x1="27.0" y1="224.80" x2="29.2" y2="224.80" stroke="#333" stroke-width="0.7"/>
<text transform="translate(25.30,227.20) scale(1,1.15)" font-size="6.4" fill="#4d4d4d" text-anchor="end">-2</text>
<line x1="27.0" y1="185.90" x2="29.2" y2="185.90" stroke="#333" stroke-width="0.7"/>
<text transform="translate(25.30,188.30) scale(1,1.15)" font-size="6.4" fill="#4d4d4d" text-anchor="end">-1</text>
<line x1="27.0" y1="147.00" x2="29.2" y2="147.00" stroke="#333" stroke-width="0.7"/>
<text transform="translate(25.30,149.40) scale(1,1.15)" font-size="6.4" fill="#4d4d4d" text-anchor="end">0</text>
<line x1="27.0" y1="108.10" x2="29.2" y2="108.10" stroke="#333" stroke-width="0.7"/>
<text transform="translate(25.30,110.50) scale(1,1.15)" font-size="6.4" fill="#4d4d4d" text-anchor="end">1</text>
<line x1="27.0" y1="69.20" x2="29.2" y2="69.20" stroke="#333" stroke-width="0.7"/>
<text transform="translate(25.30,71.60) scale(1,1.15)" font-size="6.4" fill="#4d4d4d" text-anchor="end">2</text>
<line x1="27.0" y1="30.30" x2="29.2" y2="30.30" stroke="#333" stroke-width="0.7"/>
<text transform="translate(25.30,32.70) scale(1,1.15)" font-size="6.4" fill="#4d4d4d" text-anchor="end">3</text>
<text transform="translate(137.40,252.60) scale(1,1.17)" font-size="7.7" fill="#1a1a1a" text-anchor="middle">Dim1 (81.6%)</text>
<text transform="translate(17.00,122.20) rotate(-90) scale(1,1.17)" font-size="7.7" fill="#1a1a1a" text-anchor="middle">Dim2 (12%)</text>
<text transform="translate(256.50,112.10) scale(1,1.12)" font-size="7.7" fill="#1a1a1a">cluster</text>
<rect x="257.5" y="116.8" width="11.2" height="11.2" fill="#FC4E07" fill-opacity="0.2" stroke="#FC4E07" stroke-opacity="0.6" stroke-width="0.8"/>
<circle cx="263.0" cy="122.2" r="2.2" fill="#FC4E07"/>
<rect x="257.5" y="128.6" width="11.2" height="11.2" fill="#00AFBB" fill-opacity="0.2" stroke="#00AFBB" stroke-opacity="0.7" stroke-width="0.8"/>
<path d="M263 130.9L266 136.1L260 136.1Z" fill="#00AFBB"/>
<text transform="translate(272.20,125.00) scale(1,1.15)" font-size="6.4" fill="#1a1a1a">1</text>
<text transform="translate(272.20,136.60) scale(1,1.15)" font-size="6.4" fill="#1a1a1a">2</text>
<text transform="translate(1.20,13.40)" font-size="16.5" fill="#000" font-family="Liberation Serif, serif">A</text>
<line x1="360.64" y1="220.19" x2="517.14" y2="220.19" stroke="#dcdcdc" stroke-width="0.8"/>
<line x1="382.38" y1="211.47" x2="538.88" y2="211.47" stroke="#dcdcdc" stroke-width="0.8"/>
<line x1="404.13" y1="202.76" x2="560.63" y2="202.76" stroke="#dcdcdc" stroke-width="0.8"/>
<line x1="425.87" y1="194.04" x2="582.37" y2="194.04" stroke="#dcdcdc" stroke-width="0.8"/>
<line x1="447.61" y1="185.33" x2="604.11" y2="185.33" stroke="#dcdcdc" stroke-width="0.8"/>
<line x1="469.35" y1="176.62" x2="625.85" y2="176.62" stroke="#dcdcdc" stroke-width="0.8"/>
<line x1="378.02" y1="228.90" x2="530.22" y2="167.90" stroke="#dcdcdc" stroke-width="0.6"/>
<line x1="417.15" y1="228.90" x2="569.34" y2="167.90" stroke="#dcdcdc" stroke-width="0.6"/>
<line x1="456.27" y1="228.90" x2="608.47" y2="167.90" stroke="#dcdcdc" stroke-width="0.6"/>
<line x1="491.09" y1="167.90" x2="647.59" y2="167.90" stroke="#a8a8a8" stroke-width="1.0"/>
<line x1="491.09" y1="167.90" x2="491.09" y2="31.60" stroke="#b4b4b4" stroke-width="1.0"/>
<circle cx="484.9" cy="169.6" r="1.45" fill="#00AFBB"/>
<circle cx="446.5" cy="128.7" r="1.45" fill="#00AFBB"/>
<circle cx="445.9" cy="135.6" r="1.45" fill="#00AFBB"/>
<circle cx="458.5" cy="138.7" r="1.45" fill="#00AFBB"/>
<circle cx="442.3" cy="140" r="1.45" fill="#00AFBB"/>
<circle cx="445.3" cy="142.7" r="1.45" fill="#00AFBB"/>
<circle cx="448" cy="145.7" r="1.45" fill="#00AFBB"/>
<circle cx="437.4" cy="151.2" r="1.45" fill="#00AFBB"/>
<circle cx="439.2" cy="153" r="1.45" fill="#00AFBB"/>
<circle cx="428" cy="154.3" r="1.45" fill="#00AFBB"/>
<circle cx="434.3" cy="155.1" r="1.45" fill="#00AFBB"/>
<circle cx="431.9" cy="156.7" r="1.45" fill="#00AFBB"/>
<circle cx="445.3" cy="155.5" r="1.45" fill="#00AFBB"/>
<circle cx="452.9" cy="157.3" r="1.45" fill="#00AFBB"/>
<circle cx="438" cy="157.9" r="1.45" fill="#00AFBB"/>
<circle cx="440.4" cy="159.1" r="1.45" fill="#00AFBB"/>
<circle cx="446.5" cy="159.1" r="1.45" fill="#00AFBB"/>
<circle cx="417.2" cy="156.7" r="1.45" fill="#00AFBB"/>
<circle cx="414.2" cy="158.5" r="1.45" fill="#00AFBB"/>
<circle cx="421.5" cy="159.1" r="1.45" fill="#00AFBB"/>
<circle cx="449.9" cy="163.6" r="1.45" fill="#00AFBB"/>
<circle cx="444.7" cy="160.9" r="1.45" fill="#00AFBB"/>
<circle cx="440.4" cy="160.3" r="1.45" fill="#00AFBB"/>
<circle cx="435.5" cy="163.6" r="1.45" fill="#00AFBB"/>
<circle cx="440.4" cy="164.3" r="1.45" fill="#00AFBB"/>
<circle cx="437.4" cy="167" r="1.45" fill="#00AFBB"/>
<circle cx="436.1" cy="168" r="1.45" fill="#00AFBB"/>
<circle cx="428.2" cy="160.9" r="1.45" fill="#00AFBB"/>
<circle cx="429.4" cy="162.7" r="1.45" fill="#00AFBB"/>
<circle cx="430.6" cy="162.1" r="1.45" fill="#00AFBB"/>
<circle cx="426.4" cy="164.5" r="1.45" fill="#00AFBB"/>
<circle cx="423.3" cy="160.9" r="1.45" fill="#00AFBB"/>
<circle cx="422.1" cy="163.3" r="1.45" fill="#00AFBB"/>
<circle cx="419.7" cy="165.8" r="1.45" fill="#00AFBB"/>
<circle cx="420.9" cy="167" r="1.45" fill="#00AFBB"/>
<circle cx="418.4" cy="168.2" r="1.45" fill="#00AFBB"/>
<circle cx="417.2" cy="166.4" r="1.45" fill="#00AFBB"/>
<circle cx="426.4" cy="168.5" r="1.45" fill="#00AFBB"/>
<circle cx="415.4" cy="159.7" r="1.45" fill="#00AFBB"/>
<circle cx="414.8" cy="161.5" r="1.45" fill="#00AFBB"/>
<circle cx="411.7" cy="165.8" r="1.45" fill="#00AFBB"/>
<circle cx="409.9" cy="167.6" r="1.45" fill="#00AFBB"/>
<circle cx="412.3" cy="168.2" r="1.45" fill="#00AFBB"/>
<circle cx="411.1" cy="170" r="1.45" fill="#00AFBB"/>
<circle cx="414.8" cy="170.7" r="1.45" fill="#00AFBB"/>
<circle cx="415.4" cy="173.1" r="1.45" fill="#00AFBB"/>
<circle cx="417.2" cy="174.3" r="1.45" fill="#00AFBB"/>
<circle cx="419.7" cy="175.3" r="1.45" fill="#00AFBB"/>
<circle cx="406.8" cy="168.8" r="1.45" fill="#00AFBB"/>
<circle cx="407.4" cy="171.3" r="1.45" fill="#00AFBB"/>
<circle cx="405.6" cy="173.7" r="1.45" fill="#00AFBB"/>
<circle cx="408.1" cy="175.5" r="1.45" fill="#00AFBB"/>
<circle cx="406.2" cy="177.4" r="1.45" fill="#00AFBB"/>
<circle cx="424.5" cy="175.5" r="1.45" fill="#00AFBB"/>
<circle cx="426.4" cy="176.8" r="1.45" fill="#00AFBB"/>
<circle cx="422.7" cy="178.6" r="1.45" fill="#00AFBB"/>
<circle cx="414.2" cy="179.2" r="1.45" fill="#00AFBB"/>
<circle cx="409.9" cy="181" r="1.45" fill="#00AFBB"/>
<circle cx="405" cy="181.6" r="1.45" fill="#00AFBB"/>
<circle cx="420.9" cy="182.9" r="1.45" fill="#00AFBB"/>
<circle cx="411.1" cy="184.7" r="1.45" fill="#00AFBB"/>
<circle cx="406.8" cy="185.9" r="1.45" fill="#00AFBB"/>
<circle cx="416" cy="187.5" r="1.45" fill="#00AFBB"/>
<circle cx="349.8" cy="154.6" r="1.45" fill="#00AFBB"/>
<circle cx="386.4" cy="137.2" r="1.45" fill="#00AFBB"/>
<circle cx="396.2" cy="139.4" r="1.45" fill="#00AFBB"/>
<circle cx="399.6" cy="145.2" r="1.45" fill="#00AFBB"/>
<circle cx="391.9" cy="148" r="1.45" fill="#00AFBB"/>
<circle cx="388.2" cy="150.6" r="1.45" fill="#00AFBB"/>
<circle cx="387.4" cy="151.3" r="1.45" fill="#00AFBB"/>
<circle cx="400.1" cy="154.1" r="1.45" fill="#00AFBB"/>
<circle cx="400.5" cy="156.5" r="1.45" fill="#00AFBB"/>
<circle cx="385.4" cy="161.4" r="1.45" fill="#00AFBB"/>
<circle cx="389.1" cy="158.9" r="1.45" fill="#00AFBB"/>
<circle cx="396.2" cy="166" r="1.45" fill="#00AFBB"/>
<circle cx="398" cy="167.2" r="1.45" fill="#00AFBB"/>
<circle cx="399.8" cy="165.4" r="1.45" fill="#00AFBB"/>
<circle cx="403.5" cy="164.5" r="1.45" fill="#00AFBB"/>
<circle cx="401.1" cy="167.8" r="1.45" fill="#00AFBB"/>
<circle cx="396.8" cy="168.4" r="1.45" fill="#00AFBB"/>
<circle cx="393.1" cy="169.7" r="1.45" fill="#00AFBB"/>
<circle cx="395" cy="172.1" r="1.45" fill="#00AFBB"/>
<circle cx="384.2" cy="173.3" r="1.45" fill="#00AFBB"/>
<circle cx="388.9" cy="172.7" r="1.45" fill="#00AFBB"/>
<circle cx="408.4" cy="170.3" r="1.45" fill="#00AFBB"/>
<circle cx="410.8" cy="166.6" r="1.45" fill="#00AFBB"/>
<circle cx="413.3" cy="170.3" r="1.45" fill="#00AFBB"/>
<circle cx="410.2" cy="172.1" r="1.45" fill="#00AFBB"/>
<circle cx="415.1" cy="172.1" r="1.45" fill="#00AFBB"/>
<circle cx="418.2" cy="167.2" r="1.45" fill="#00AFBB"/>
<circle cx="418.8" cy="170.9" r="1.45" fill="#00AFBB"/>
<circle cx="400.5" cy="173.3" r="1.45" fill="#00AFBB"/>
<circle cx="402.3" cy="174.5" r="1.45" fill="#00AFBB"/>
<circle cx="399.8" cy="175.8" r="1.45" fill="#00AFBB"/>
<circle cx="403.5" cy="176.4" r="1.45" fill="#00AFBB"/>
<circle cx="406" cy="175.2" r="1.45" fill="#00AFBB"/>
<circle cx="392.5" cy="176.4" r="1.45" fill="#00AFBB"/>
<circle cx="394.4" cy="177.6" r="1.45" fill="#00AFBB"/>
<circle cx="396.2" cy="178.2" r="1.45" fill="#00AFBB"/>
<circle cx="398.6" cy="180" r="1.45" fill="#00AFBB"/>
<circle cx="401.1" cy="179.4" r="1.45" fill="#00AFBB"/>
<circle cx="408.4" cy="178.8" r="1.45" fill="#00AFBB"/>
<circle cx="406" cy="180.6" r="1.45" fill="#00AFBB"/>
<circle cx="390.7" cy="181.3" r="1.45" fill="#00AFBB"/>
<circle cx="392.5" cy="181.6" r="1.45" fill="#00AFBB"/>
<circle cx="397.4" cy="181.3" r="1.45" fill="#00AFBB"/>
<circle cx="385.8" cy="181.6" r="1.45" fill="#00AFBB"/>
<circle cx="362" cy="178" r="1.45" fill="#00AFBB"/>
<circle cx="356.5" cy="181.6" r="1.45" fill="#00AFBB"/>
<circle cx="376.4" cy="182.8" r="1.45" fill="#00AFBB"/>
<circle cx="383.4" cy="184.9" r="1.45" fill="#00AFBB"/>
<circle cx="384.6" cy="184.1" r="1.45" fill="#00AFBB"/>
<circle cx="396.8" cy="184.9" r="1.45" fill="#00AFBB"/>
<circle cx="398" cy="186.1" r="1.45" fill="#00AFBB"/>
<circle cx="407.2" cy="184.3" r="1.45" fill="#00AFBB"/>
<circle cx="404.1" cy="186.1" r="1.45" fill="#00AFBB"/>
<circle cx="410.8" cy="186.1" r="1.45" fill="#00AFBB"/>
<circle cx="383.4" cy="186.7" r="1.45" fill="#00AFBB"/>
<circle cx="368.3" cy="190.3" r="1.45" fill="#00AFBB"/>
<circle cx="386.7" cy="189.1" r="1.45" fill="#00AFBB"/>
<circle cx="390.1" cy="190.6" r="1.45" fill="#00AFBB"/>
<circle cx="390.3" cy="192.5" r="1.45" fill="#00AFBB"/>
<circle cx="395.6" cy="188.1" r="1.45" fill="#00AFBB"/>
<circle cx="400.5" cy="189.7" r="1.45" fill="#00AFBB"/>
<circle cx="402.3" cy="189.1" r="1.45" fill="#00AFBB"/>
<circle cx="404.1" cy="187.9" r="1.45" fill="#00AFBB"/>
<circle cx="406" cy="186.7" r="1.45" fill="#00AFBB"/>
<circle cx="411.5" cy="183.6" r="1.45" fill="#00AFBB"/>
<circle cx="410.2" cy="189.7" r="1.45" fill="#00AFBB"/>
<circle cx="408.4" cy="192.2" r="1.45" fill="#00AFBB"/>
<circle cx="404.7" cy="192.8" r="1.45" fill="#00AFBB"/>
<circle cx="415.7" cy="188.5" r="1.45" fill="#00AFBB"/>
<circle cx="416.3" cy="192.2" r="1.45" fill="#00AFBB"/>
<circle cx="413.3" cy="194.6" r="1.45" fill="#00AFBB"/>
<circle cx="376.4" cy="195.5" r="1.45" fill="#00AFBB"/>
<circle cx="376.4" cy="198.6" r="1.45" fill="#00AFBB"/>
<circle cx="389.5" cy="197.7" r="1.45" fill="#00AFBB"/>
<circle cx="393.1" cy="196.4" r="1.45" fill="#00AFBB"/>
<circle cx="394.7" cy="196.4" r="1.45" fill="#00AFBB"/>
<circle cx="405.3" cy="197.7" r="1.45" fill="#00AFBB"/>
<circle cx="402.3" cy="200.7" r="1.45" fill="#00AFBB"/>
<circle cx="381.5" cy="201.3" r="1.45" fill="#00AFBB"/>
<circle cx="382.7" cy="202.5" r="1.45" fill="#00AFBB"/>
<circle cx="384" cy="203.2" r="1.45" fill="#00AFBB"/>
<circle cx="361.4" cy="200.3" r="1.45" fill="#00AFBB"/>
<circle cx="410.6" cy="203.2" r="1.45" fill="#00AFBB"/>
<circle cx="404.9" cy="178.6" r="1.45" fill="#00AFBB"/>
<circle cx="407.3" cy="179.5" r="1.45" fill="#00AFBB"/>
<circle cx="405.9" cy="182.3" r="1.45" fill="#00AFBB"/>
<circle cx="404.9" cy="187.2" r="1.45" fill="#00AFBB"/>
<circle cx="421" cy="162.3" r="1.45" fill="#00AFBB"/>
<circle cx="420.3" cy="164.2" r="1.45" fill="#00AFBB"/>
<circle cx="421.4" cy="165.4" r="1.45" fill="#00AFBB"/>
<circle cx="423.3" cy="163.5" r="1.45" fill="#00AFBB"/>
<circle cx="424.8" cy="161.9" r="1.45" fill="#00AFBB"/>
<circle cx="426.4" cy="160.8" r="1.45" fill="#00AFBB"/>
<circle cx="429.4" cy="161.2" r="1.45" fill="#00AFBB"/>
<circle cx="427.9" cy="163.1" r="1.45" fill="#00AFBB"/>
<circle cx="424.1" cy="165.4" r="1.45" fill="#00AFBB"/>
<circle cx="417.2" cy="168" r="1.45" fill="#00AFBB"/>
<circle cx="397.6" cy="165.4" r="1.45" fill="#00AFBB"/>
<circle cx="401.4" cy="166.2" r="1.45" fill="#00AFBB"/>
<circle cx="397.9" cy="168.9" r="1.45" fill="#00AFBB"/>
<circle cx="400.6" cy="169.6" r="1.45" fill="#00AFBB"/>
<circle cx="401.4" cy="175" r="1.45" fill="#00AFBB"/>
<circle cx="407.5" cy="176.5" r="1.45" fill="#00AFBB"/>
<circle cx="409" cy="174.6" r="1.45" fill="#00AFBB"/>
<circle cx="410.5" cy="175.7" r="1.45" fill="#00AFBB"/>
<circle cx="402.9" cy="177.3" r="1.45" fill="#00AFBB"/>
<circle cx="400.6" cy="178.4" r="1.45" fill="#00AFBB"/>
<circle cx="416.6" cy="168.9" r="1.45" fill="#00AFBB"/>
<circle cx="560.9" cy="41.6" r="1.45" fill="#FC4E07"/>
<circle cx="552.6" cy="48.6" r="1.45" fill="#FC4E07"/>
<circle cx="550.2" cy="52.8" r="1.45" fill="#FC4E07"/>
<circle cx="543.2" cy="58.1" r="1.45" fill="#FC4E07"/>
<circle cx="546.6" cy="65.4" r="1.45" fill="#FC4E07"/>
<circle cx="558.8" cy="69.7" r="1.45" fill="#FC4E07"/>
<circle cx="504.7" cy="71.2" r="1.45" fill="#FC4E07"/>
<circle cx="495.6" cy="80" r="1.45" fill="#FC4E07"/>
<circle cx="499.5" cy="83.5" r="1.45" fill="#FC4E07"/>
<circle cx="508.9" cy="83.5" r="1.45" fill="#FC4E07"/>
<circle cx="517.3" cy="80" r="1.45" fill="#FC4E07"/>
<circle cx="521.3" cy="80.4" r="1.45" fill="#FC4E07"/>
<circle cx="520.1" cy="83.1" r="1.45" fill="#FC4E07"/>
<circle cx="531.3" cy="83.1" r="1.45" fill="#FC4E07"/>
<circle cx="538" cy="80" r="1.45" fill="#FC4E07"/>
<circle cx="542.5" cy="76.6" r="1.45" fill="#FC4E07"/>
<circle cx="544.1" cy="79.7" r="1.45" fill="#FC4E07"/>
<circle cx="546.6" cy="81.3" r="1.45" fill="#FC4E07"/>
<circle cx="542.9" cy="86.5" r="1.45" fill="#FC4E07"/>
<circle cx="488.5" cy="87.4" r="1.45" fill="#FC4E07"/>
<circle cx="501.4" cy="88.1" r="1.45" fill="#FC4E07"/>
<circle cx="510.3" cy="87.4" r="1.45" fill="#FC4E07"/>
<circle cx="507.8" cy="90.5" r="1.45" fill="#FC4E07"/>
<circle cx="521.3" cy="87.4" r="1.45" fill="#FC4E07"/>
<circle cx="525.4" cy="89.3" r="1.45" fill="#FC4E07"/>
<circle cx="530.3" cy="87.7" r="1.45" fill="#FC4E07"/>
<circle cx="531.9" cy="91.1" r="1.45" fill="#FC4E07"/>
<circle cx="541.7" cy="91.7" r="1.45" fill="#FC4E07"/>
<circle cx="556.9" cy="89.3" r="1.45" fill="#FC4E07"/>
<circle cx="547.8" cy="93.8" r="1.45" fill="#FC4E07"/>
<circle cx="517.9" cy="92.1" r="1.45" fill="#FC4E07"/>
<circle cx="516.4" cy="94.8" r="1.45" fill="#FC4E07"/>
<circle cx="515.4" cy="97.8" r="1.45" fill="#FC4E07"/>
<circle cx="527" cy="93.5" r="1.45" fill="#FC4E07"/>
<circle cx="528.9" cy="95.4" r="1.45" fill="#FC4E07"/>
<circle cx="528.2" cy="97" r="1.45" fill="#FC4E07"/>
<circle cx="532.8" cy="98.2" r="1.45" fill="#FC4E07"/>
<circle cx="541.3" cy="97" r="1.45" fill="#FC4E07"/>
<circle cx="539.6" cy="100.3" r="1.45" fill="#FC4E07"/>
<circle cx="537.4" cy="103.1" r="1.45" fill="#FC4E07"/>
<circle cx="535.9" cy="105.8" r="1.45" fill="#FC4E07"/>
<circle cx="519.1" cy="99.9" r="1.45" fill="#FC4E07"/>
<circle cx="517.3" cy="103.6" r="1.45" fill="#FC4E07"/>
<circle cx="519.1" cy="107.2" r="1.45" fill="#FC4E07"/>
<circle cx="523.7" cy="106.7" r="1.45" fill="#FC4E07"/>
<circle cx="523.7" cy="108.2" r="1.45" fill="#FC4E07"/>
<circle cx="529.5" cy="108" r="1.45" fill="#FC4E07"/>
<circle cx="543.5" cy="111.9" r="1.45" fill="#FC4E07"/>
<circle cx="498.3" cy="100.6" r="1.45" fill="#FC4E07"/>
<circle cx="501.4" cy="99.9" r="1.45" fill="#FC4E07"/>
<circle cx="509.9" cy="103.6" r="1.45" fill="#FC4E07"/>
<circle cx="501.4" cy="105.2" r="1.45" fill="#FC4E07"/>
<circle cx="502" cy="107.6" r="1.45" fill="#FC4E07"/>
<circle cx="500.2" cy="110" r="1.45" fill="#FC4E07"/>
<circle cx="502.6" cy="111.9" r="1.45" fill="#FC4E07"/>
<circle cx="509.3" cy="107.6" r="1.45" fill="#FC4E07"/>
<circle cx="512.7" cy="108.2" r="1.45" fill="#FC4E07"/>
<circle cx="512" cy="110.6" r="1.45" fill="#FC4E07"/>
<circle cx="513.6" cy="111.9" r="1.45" fill="#FC4E07"/>
<circle cx="512" cy="113.7" r="1.45" fill="#FC4E07"/>
<circle cx="508.1" cy="114.3" r="1.45" fill="#FC4E07"/>
<circle cx="519.1" cy="113.3" r="1.45" fill="#FC4E07"/>
<circle cx="497.1" cy="108.2" r="1.45" fill="#FC4E07"/>
<circle cx="484.3" cy="107.6" r="1.45" fill="#FC4E07"/>
<circle cx="491.6" cy="109.4" r="1.45" fill="#FC4E07"/>
<circle cx="490.4" cy="111.3" r="1.45" fill="#FC4E07"/>
<circle cx="492.2" cy="112.5" r="1.45" fill="#FC4E07"/>
<circle cx="493.4" cy="113.7" r="1.45" fill="#FC4E07"/>
<circle cx="486.1" cy="113.3" r="1.45" fill="#FC4E07"/>
<circle cx="489.2" cy="113.1" r="1.45" fill="#FC4E07"/>
<circle cx="497.1" cy="113.3" r="1.45" fill="#FC4E07"/>
<circle cx="480" cy="114.9" r="1.45" fill="#FC4E07"/>
<circle cx="482.4" cy="118.4" r="1.45" fill="#FC4E07"/>
<circle cx="491" cy="115.6" r="1.45" fill="#FC4E07"/>
<circle cx="500.5" cy="118.7" r="1.45" fill="#FC4E07"/>
<circle cx="499.5" cy="121.1" r="1.45" fill="#FC4E07"/>
<circle cx="505.6" cy="120.1" r="1.45" fill="#FC4E07"/>
<circle cx="507.1" cy="119.6" r="1.45" fill="#FC4E07"/>
<circle cx="511.5" cy="116.8" r="1.45" fill="#FC4E07"/>
<circle cx="515.4" cy="117.2" r="1.45" fill="#FC4E07"/>
<circle cx="522.5" cy="118.4" r="1.45" fill="#FC4E07"/>
<circle cx="532.8" cy="122.3" r="1.45" fill="#FC4E07"/>
<circle cx="551.8" cy="127.8" r="1.45" fill="#FC4E07"/>
<circle cx="546.9" cy="135.2" r="1.45" fill="#FC4E07"/>
<circle cx="502" cy="122.9" r="1.45" fill="#FC4E07"/>
<circle cx="502.6" cy="124.8" r="1.45" fill="#FC4E07"/>
<circle cx="501.4" cy="126.2" r="1.45" fill="#FC4E07"/>
<circle cx="503.8" cy="127.8" r="1.45" fill="#FC4E07"/>
<circle cx="505" cy="129.9" r="1.45" fill="#FC4E07"/>
<circle cx="509.1" cy="127.2" r="1.45" fill="#FC4E07"/>
<circle cx="492.8" cy="122.9" r="1.45" fill="#FC4E07"/>
<circle cx="491.6" cy="124.8" r="1.45" fill="#FC4E07"/>
<circle cx="490.4" cy="126.6" r="1.45" fill="#FC4E07"/>
<circle cx="487.3" cy="124.8" r="1.45" fill="#FC4E07"/>
<circle cx="484.9" cy="125" r="1.45" fill="#FC4E07"/>
<circle cx="483.7" cy="126.6" r="1.45" fill="#FC4E07"/>
<circle cx="487.9" cy="127.8" r="1.45" fill="#FC4E07"/>
<circle cx="491.6" cy="127.8" r="1.45" fill="#FC4E07"/>
<circle cx="487.3" cy="129.7" r="1.45" fill="#FC4E07"/>
<circle cx="480.6" cy="127.2" r="1.45" fill="#FC4E07"/>
<circle cx="480.6" cy="130.3" r="1.45" fill="#FC4E07"/>
<circle cx="489.8" cy="133.3" r="1.45" fill="#FC4E07"/>
<circle cx="491" cy="135.2" r="1.45" fill="#FC4E07"/>
<circle cx="491.6" cy="137" r="1.45" fill="#FC4E07"/>
<circle cx="482.4" cy="134.5" r="1.45" fill="#FC4E07"/>
<circle cx="483.7" cy="136.4" r="1.45" fill="#FC4E07"/>
<circle cx="485.5" cy="139.4" r="1.45" fill="#FC4E07"/>
<circle cx="500.2" cy="137.6" r="1.45" fill="#FC4E07"/>
<circle cx="504.2" cy="137.6" r="1.45" fill="#FC4E07"/>
<circle cx="512.7" cy="136.4" r="1.45" fill="#FC4E07"/>
<circle cx="520.5" cy="138.5" r="1.45" fill="#FC4E07"/>
<circle cx="485.5" cy="145.5" r="1.45" fill="#FC4E07"/>
<circle cx="495.3" cy="146.1" r="1.45" fill="#FC4E07"/>
<circle cx="480.6" cy="146.4" r="1.45" fill="#FC4E07"/>
<circle cx="498.3" cy="148.5" r="1.45" fill="#FC4E07"/>
<circle cx="480.6" cy="153.7" r="1.45" fill="#FC4E07"/>
<circle cx="540.1" cy="157.4" r="1.45" fill="#FC4E07"/>
<circle cx="570.6" cy="70.5" r="1.45" fill="#FC4E07"/>
<circle cx="583.3" cy="70.9" r="1.45" fill="#FC4E07"/>
<circle cx="477.7" cy="109.5" r="1.45" fill="#FC4E07"/>
<circle cx="478" cy="120.5" r="1.45" fill="#FC4E07"/>
<circle cx="469.7" cy="115.9" r="1.45" fill="#FC4E07"/>
<circle cx="470.3" cy="118.3" r="1.45" fill="#FC4E07"/>
<circle cx="465.5" cy="119.3" r="1.45" fill="#FC4E07"/>
<circle cx="460.9" cy="118.9" r="1.45" fill="#FC4E07"/>
<circle cx="461.4" cy="122" r="1.45" fill="#FC4E07"/>
<circle cx="464.8" cy="126.3" r="1.45" fill="#FC4E07"/>
<circle cx="460.6" cy="129.1" r="1.45" fill="#FC4E07"/>
<circle cx="474" cy="128.7" r="1.45" fill="#FC4E07"/>
<circle cx="475.8" cy="128.1" r="1.45" fill="#FC4E07"/>
<circle cx="478.3" cy="126.3" r="1.45" fill="#FC4E07"/>
<circle cx="479.5" cy="127.5" r="1.45" fill="#FC4E07"/>
<circle cx="474.6" cy="130.5" r="1.45" fill="#FC4E07"/>
<circle cx="477.1" cy="129.9" r="1.45" fill="#FC4E07"/>
<circle cx="473.4" cy="131.7" r="1.45" fill="#FC4E07"/>
<circle cx="448.4" cy="135.6" r="1.45" fill="#FC4E07"/>
<circle cx="454.5" cy="134.1" r="1.45" fill="#FC4E07"/>
<circle cx="456.3" cy="134.4" r="1.45" fill="#FC4E07"/>
<circle cx="458.7" cy="134.4" r="1.45" fill="#FC4E07"/>
<circle cx="466.7" cy="135.3" r="1.45" fill="#FC4E07"/>
<circle cx="467.3" cy="138.7" r="1.45" fill="#FC4E07"/>
<circle cx="472.8" cy="138.7" r="1.45" fill="#FC4E07"/>
<circle cx="475.2" cy="134.1" r="1.45" fill="#FC4E07"/>
<circle cx="475.8" cy="137.2" r="1.45" fill="#FC4E07"/>
<circle cx="477.1" cy="139" r="1.45" fill="#FC4E07"/>
<circle cx="483.2" cy="135.3" r="1.45" fill="#FC4E07"/>
<circle cx="483.8" cy="137.8" r="1.45" fill="#FC4E07"/>
<circle cx="455.1" cy="144.5" r="1.45" fill="#FC4E07"/>
<circle cx="460" cy="142.7" r="1.45" fill="#FC4E07"/>
<circle cx="461.4" cy="143.3" r="1.45" fill="#FC4E07"/>
<circle cx="462.4" cy="144.5" r="1.45" fill="#FC4E07"/>
<circle cx="463.6" cy="145.7" r="1.45" fill="#FC4E07"/>
<circle cx="468.5" cy="146.3" r="1.45" fill="#FC4E07"/>
<circle cx="471.6" cy="148.2" r="1.45" fill="#FC4E07"/>
<circle cx="475.8" cy="146.3" r="1.45" fill="#FC4E07"/>
<circle cx="477.1" cy="142.7" r="1.45" fill="#FC4E07"/>
<circle cx="478.3" cy="143.3" r="1.45" fill="#FC4E07"/>
<circle cx="479.5" cy="143.9" r="1.45" fill="#FC4E07"/>
<circle cx="484.4" cy="145.7" r="1.45" fill="#FC4E07"/>
<circle cx="451.2" cy="148.2" r="1.45" fill="#FC4E07"/>
<circle cx="452" cy="150" r="1.45" fill="#FC4E07"/>
<circle cx="452.9" cy="151.8" r="1.45" fill="#FC4E07"/>
<circle cx="461.2" cy="149.7" r="1.45" fill="#FC4E07"/>
<circle cx="458.7" cy="154.3" r="1.45" fill="#FC4E07"/>
<circle cx="461.2" cy="157.6" r="1.45" fill="#FC4E07"/>
<circle cx="466.1" cy="154.3" r="1.45" fill="#FC4E07"/>
<circle cx="469.7" cy="154.3" r="1.45" fill="#FC4E07"/>
<circle cx="467.3" cy="157.3" r="1.45" fill="#FC4E07"/>
<circle cx="475.2" cy="153.4" r="1.45" fill="#FC4E07"/>
<circle cx="477.7" cy="153.6" r="1.45" fill="#FC4E07"/>
<circle cx="454.8" cy="166.7" r="1.45" fill="#FC4E07"/>
<line x1="338.90" y1="228.90" x2="495.40" y2="228.90" stroke="#8c8c8c" stroke-width="1.3"/>
<line x1="338.90" y1="228.90" x2="338.90" y2="92.60" stroke="#a6a6a6" stroke-width="1.6"/>
<line x1="338.90" y1="92.60" x2="495.40" y2="92.60" stroke="#9a9a9a" stroke-width="1.1"/>
<line x1="495.40" y1="228.90" x2="495.40" y2="92.60" stroke="#5a5a5a" stroke-width="1.0"/>
<line x1="338.90" y1="228.90" x2="491.09" y2="167.90" stroke="#333" stroke-width="0.75"/>
<line x1="495.40" y1="228.90" x2="647.59" y2="167.90" stroke="#333" stroke-width="0.75"/>
<line x1="338.90" y1="92.60" x2="491.09" y2="31.60" stroke="#333" stroke-width="0.75"/>
<line x1="495.40" y1="92.60" x2="647.59" y2="31.60" stroke="#333" stroke-width="0.75"/>
<line x1="491.09" y1="31.60" x2="647.59" y2="31.60" stroke="#6a6a6a" stroke-width="1.0"/>
<line x1="647.59" y1="167.90" x2="647.59" y2="31.60" stroke="#6a6a6a" stroke-width="1.1"/>
<line x1="338.90" y1="227.30" x2="338.90" y2="230.60" stroke="#444" stroke-width="0.9"/>
<text transform="translate(338.90,239.80) scale(1,1.2)" font-size="5.7" fill="#1a1a1a" text-anchor="middle">10</text>
<line x1="378.02" y1="227.30" x2="378.02" y2="230.60" stroke="#444" stroke-width="0.9"/>
<text transform="translate(378.02,239.80) scale(1,1.2)" font-size="5.7" fill="#1a1a1a" text-anchor="middle">15</text>
<line x1="417.15" y1="227.30" x2="417.15" y2="230.60" stroke="#444" stroke-width="0.9"/>
<text transform="translate(417.15,239.80) scale(1,1.2)" font-size="5.7" fill="#1a1a1a" text-anchor="middle">20</text>
<line x1="456.27" y1="227.30" x2="456.27" y2="230.60" stroke="#444" stroke-width="0.9"/>
<text transform="translate(456.27,239.80) scale(1,1.2)" font-size="5.7" fill="#1a1a1a" text-anchor="middle">25</text>
<line x1="495.40" y1="227.30" x2="495.40" y2="230.60" stroke="#444" stroke-width="0.9"/>
<text transform="translate(495.40,239.80) scale(1,1.2)" font-size="5.7" fill="#1a1a1a" text-anchor="middle">30</text>
<line x1="337.40" y1="228.90" x2="340.40" y2="228.90" stroke="#555" stroke-width="1.0"/>
<text transform="translate(329.30,228.90) rotate(-90) scale(1,1.12)" font-size="5.7" fill="#1a1a1a" text-anchor="middle">0</text>
<line x1="337.40" y1="209.43" x2="340.40" y2="209.43" stroke="#555" stroke-width="1.0"/>
<text transform="translate(329.30,209.43) rotate(-90) scale(1,1.12)" font-size="5.7" fill="#1a1a1a" text-anchor="middle">2</text>
<line x1="337.40" y1="189.96" x2="340.40" y2="189.96" stroke="#555" stroke-width="1.0"/>
<text transform="translate(329.30,189.96) rotate(-90) scale(1,1.12)" font-size="5.7" fill="#1a1a1a" text-anchor="middle">4</text>
<line x1="337.40" y1="170.48" x2="340.40" y2="170.48" stroke="#555" stroke-width="1.0"/>
<text transform="translate(329.30,170.48) rotate(-90) scale(1,1.12)" font-size="5.7" fill="#1a1a1a" text-anchor="middle">6</text>
<line x1="337.40" y1="151.01" x2="340.40" y2="151.01" stroke="#555" stroke-width="1.0"/>
<text transform="translate(329.30,151.01) rotate(-90) scale(1,1.12)" font-size="5.7" fill="#1a1a1a" text-anchor="middle">8</text>
<line x1="337.40" y1="131.54" x2="340.40" y2="131.54" stroke="#555" stroke-width="1.0"/>
<text transform="translate(329.30,131.54) rotate(-90) scale(1,1.12)" font-size="5.7" fill="#1a1a1a" text-anchor="middle">10</text>
<line x1="337.40" y1="112.07" x2="340.40" y2="112.07" stroke="#555" stroke-width="1.0"/>
<text transform="translate(329.30,112.07) rotate(-90) scale(1,1.12)" font-size="5.7" fill="#1a1a1a" text-anchor="middle">12</text>
<line x1="337.40" y1="92.60" x2="340.40" y2="92.60" stroke="#555" stroke-width="1.0"/>
<text transform="translate(329.30,92.60) rotate(-90) scale(1,1.12)" font-size="5.7" fill="#1a1a1a" text-anchor="middle">14</text>
<line x1="494.20" y1="229.40" x2="496.60" y2="228.40" stroke="#333" stroke-width="1.0"/>
<text transform="translate(506.40,231.50) scale(1,1.25)" font-size="5.4" fill="#1a1a1a" text-anchor="middle">0</text>
<line x1="515.94" y1="220.69" x2="518.34" y2="219.69" stroke="#333" stroke-width="1.0"/>
<text transform="translate(528.14,222.79) scale(1,1.25)" font-size="5.4" fill="#1a1a1a" text-anchor="middle">2</text>
<line x1="537.68" y1="211.97" x2="540.08" y2="210.97" stroke="#333" stroke-width="1.0"/>
<text transform="translate(549.88,214.07) scale(1,1.25)" font-size="5.4" fill="#1a1a1a" text-anchor="middle">4</text>
<line x1="559.43" y1="203.26" x2="561.83" y2="202.26" stroke="#333" stroke-width="1.0"/>
<text transform="translate(571.63,205.36) scale(1,1.25)" font-size="5.4" fill="#1a1a1a" text-anchor="middle">6</text>
<line x1="581.17" y1="194.54" x2="583.57" y2="193.54" stroke="#333" stroke-width="1.0"/>
<text transform="translate(593.37,196.64) scale(1,1.25)" font-size="5.4" fill="#1a1a1a" text-anchor="middle">8</text>
<line x1="602.91" y1="185.83" x2="605.31" y2="184.83" stroke="#333" stroke-width="1.0"/>
<text transform="translate(615.11,187.93) scale(1,1.25)" font-size="5.4" fill="#1a1a1a" text-anchor="middle">10</text>
<line x1="624.65" y1="177.12" x2="627.05" y2="176.12" stroke="#333" stroke-width="1.0"/>
<text transform="translate(636.85,179.22) scale(1,1.25)" font-size="5.4" fill="#1a1a1a" text-anchor="middle">12</text>
<line x1="646.39" y1="168.40" x2="648.79" y2="167.40" stroke="#333" stroke-width="1.0"/>
<text transform="translate(658.59,170.50) scale(1,1.25)" font-size="5.4" fill="#1a1a1a" text-anchor="middle">14</text>
<text transform="translate(417.00,256.20) scale(1,1.17)" font-size="6.75" fill="#1a1a1a" text-anchor="middle">Pars Length</text>
<text transform="translate(312.40,159.60) rotate(-90) scale(1,1.08)" font-size="7.0" fill="#1a1a1a" text-anchor="middle">Isthmus Height</text>
<text transform="translate(680.40,167.40) rotate(-90) scale(1,1.08)" font-size="7.1" fill="#1a1a1a" text-anchor="middle">Internal Height</text>
<rect x="630.6" y="23.3" width="39.2" height="23.0" fill="#fff" stroke="#666" stroke-width="0.8"/>
<text transform="translate(649.90,29.50) scale(1,1.1)" font-size="6.5" fill="#111" text-anchor="middle">Clusters</text>
<circle cx="636.8" cy="34.9" r="1.5" fill="#FC4E07"/>
<circle cx="636.8" cy="40.7" r="1.5" fill="#00AFBB"/>
<text transform="translate(642.30,38.30) scale(1,1.2)" font-size="6.5" fill="#111">Cluster 1</text>
<text transform="translate(642.30,43.90) scale(1,1.2)" font-size="6.5" fill="#111">Cluster 2</text>
<text transform="translate(321.60,13.40)" font-size="16" fill="#000" font-family="Liberation Serif, serif">B</text>
</svg></body></html>
